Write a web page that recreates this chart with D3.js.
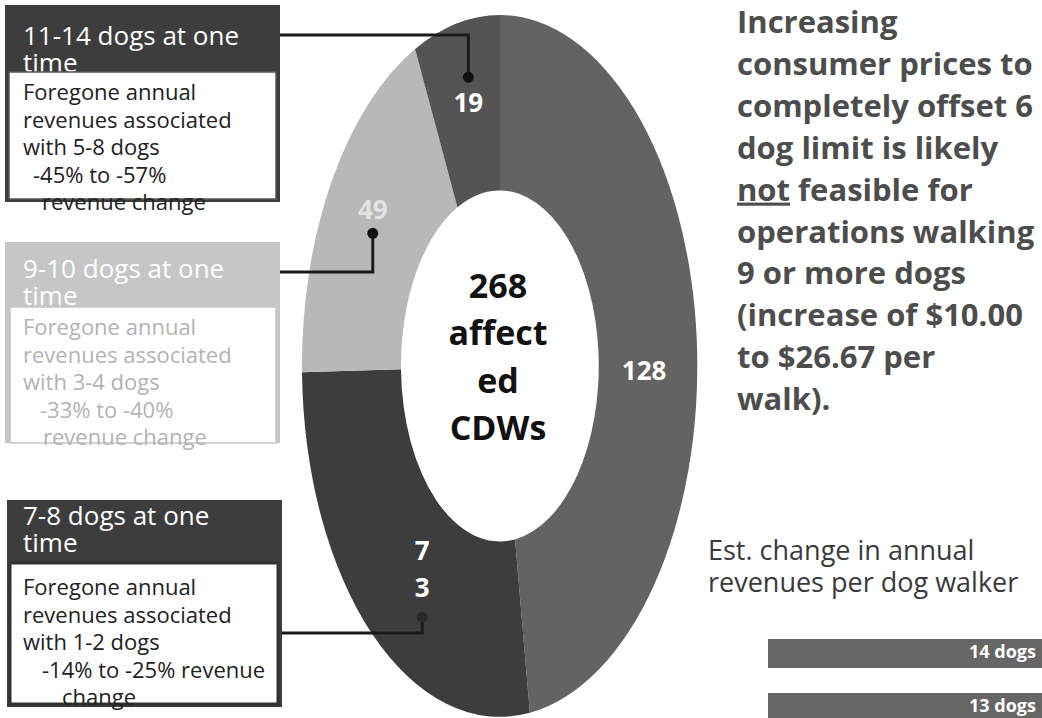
<!DOCTYPE html>
<html><head><meta charset="utf-8">
<script src="https://cdn.jsdelivr.net/npm/d3@7"></script>
<style>body{margin:0;background:#fff;overflow:hidden}</style>
</head><body>
<svg id="c" width="1042" height="718"></svg>
<script>
// ---------- data ----------
const categories = ["Other affected CDWs", "7-8 dogs", "9-10 dogs", "11-14 dogs"];
const values = [128, 73, 49, 19];
const centerLines = ["268", "affect", "ed", "CDWs"];

const boxHeaders = [["11-14 dogs at one", "time"], ["9-10 dogs at one", "time"], ["7-8 dogs at one", "time"]];
const boxBodies = [
  ["Foregone annual", "revenues associated", "with 5-8 dogs", "-45% to -57%", "revenue change"],
  ["Foregone annual", "revenues associated", "with 3-4 dogs", "-33% to -40%", "revenue change"],
  ["Foregone annual", "revenues associated", "with 1-2 dogs", "-14% to -25% revenue", "change"]
];
const boxSlice = [3, 2, 1];

const noteLines = ["Increasing", "consumer prices to", "completely offset 6", "dog limit is likely",
  "not| feasible for", "operations walking", "9 or more dogs", "(increase of $10.00", "to $26.67 per", "walk)."];
const barTitle = ["Est. change in annual", "revenues per dog walker"];
const barLabels = ["14 dogs", "13 dogs"];
const barValues = [57, 54];

// ---------- layout ----------
const W = 1042, H = 718;
const cx = 500, cy = 366, rx = 198, ry = 351;
const fills = ["#636363", "#3d3d3d", "#b8b8b8", "#545454"];
const labelColors = ["#fff", "#fff", "#e2e2e2", "#fff"];
const labelOffsets = [[-4, 25], [18, 2], [-1, -17], [1, -6]];
const dotOffsets = [null, [0, 48], [0, 23], [0, -26]];
const FONT = "'Open Sans', sans-serif";

const boxes = [
  {x: 5, y: 5, w: 275, h: 197, ix: 9, iy: 72, iw: 267, ih: 127, bg: "#3d3d3d", txt: "#222", border: "#555", bw: 1.5, hy: 45, by: 100, lineY: 35},
  {x: 5, y: 242, w: 275, h: 201, ix: 10, iy: 307, iw: 266, ih: 136, bg: "#c6c6c6", txt: "#b3b3b3", border: "#c6c6c6", bw: 1.5, hy: 278, by: 335, lineY: 272},
  {x: 7, y: 500, w: 275, h: 207, ix: 10, iy: 563, iw: 268, ih: 141, bg: "#3d3d3d", txt: "#222", border: "#333", bw: 3, hy: 525, by: 595, lineY: 633}
];
const bodyIndent = [[0, 0, 0, 10, 19], [0, 0, 0, 17, 20], [0, 0, 0, 19, 39]];

const svg = d3.select("#c");
svg.append("rect").attr("width", W).attr("height", H).attr("fill", "#fff");

// ---------- donut ----------
const pie = d3.pie().sort(null).value(d => d)(values);
const arc = d3.arc().innerRadius(0.5).outerRadius(1);
const g = svg.append("g").attr("transform", `translate(${cx},${cy})`);
g.selectAll("path.slice").data(pie).join("path")
  .attr("class", "slice")
  .attr("d", arc)
  .attr("transform", `scale(${rx},${ry})`)
  .attr("fill", (d, i) => fills[i]);

const labelPos = pie.map((d, i) => {
  const c = arc.centroid(d);
  return [c[0] * rx + labelOffsets[i][0], c[1] * ry + labelOffsets[i][1]];
});

g.selectAll("text.sl").data(pie).join("text")
  .attr("class", "sl")
  .attr("x", (d, i) => labelPos[i][0])
  .attr("y", (d, i) => labelPos[i][1])
  .attr("text-anchor", "middle")
  .attr("font-family", FONT)
  .attr("font-weight", 700)
  .attr("font-size", 26)
  .attr("fill", (d, i) => labelColors[i])
  .each(function (d, i) {
    const s = String(d.data);
    const parts = i === 1 ? s.split("") : [s];
    const el = d3.select(this);
    const lh = 37;
    parts.forEach((p, k) => {
      el.append("tspan").attr("x", labelPos[i][0])
        .attr("y", labelPos[i][1] + 9 + (k - (parts.length - 1) / 2) * lh).text(p);
    });
  });

// center text
const ct = svg.append("text").attr("text-anchor", "middle")
  .attr("font-family", FONT).attr("font-weight", 700)
  .attr("font-size", 34).attr("fill", "#111");
centerLines.forEach((t, k) => ct.append("tspan").attr("x", cx - 2).attr("y", 298 + k * 47.3).text(t));

// ---------- boxes ----------
boxes.forEach((b, i) => {
  const bg = svg.append("g");
  bg.append("rect").attr("x", b.x).attr("y", b.y).attr("width", b.w).attr("height", b.h).attr("fill", b.bg);
  boxHeaders[i].forEach((t, k) => bg.append("text").attr("font-family", FONT).attr("font-size", 26)
    .attr("fill", "#fff").attr("x", 23).attr("y", b.hy + k * 27).text(t));
  bg.append("rect").attr("x", b.ix).attr("y", b.iy).attr("width", b.iw).attr("height", b.ih)
    .attr("fill", "#fff").attr("stroke", b.border).attr("stroke-width", b.bw);
  const bt = bg.append("text").attr("font-family", FONT).attr("font-size", 22).attr("fill", b.txt);
  boxBodies[i].forEach((t, k) => bt.append("tspan").attr("x", 23 + bodyIndent[i][k]).attr("y", b.by + k * 27.5).text(t));
});

// ---------- leader lines ----------
boxes.forEach((b, i) => {
  const si = boxSlice[i];
  const lp = labelPos[si];
  const dx = cx + lp[0] + dotOffsets[si][0];
  const dy = cy + lp[1] + dotOffsets[si][1];
  svg.append("path")
    .attr("d", d3.line()([[b.x + b.w, b.lineY], [dx, b.lineY], [dx, dy]]))
    .attr("fill", "none").attr("stroke", "#1a1a1a").attr("stroke-width", 3);
  svg.append("circle").attr("cx", dx).attr("cy", dy).attr("r", 5.5).attr("fill", si === 1 ? "#2a2a2a" : "#111");
});

// ---------- note text ----------
const nt = svg.append("text").attr("font-family", FONT).attr("font-weight", 700)
  .attr("font-size", 31).attr("fill", "#4d4d4d");
noteLines.forEach((t, k) => {
  const ts = nt.append("tspan").attr("x", 737).attr("y", 33 + k * 41.9);
  if (t.includes("|")) {
    const [u, rest] = t.split("|");
    ts.append("tspan").attr("text-decoration", "underline").text(u);
    nt.append("tspan").text(rest);
  } else ts.text(t);
});

// ---------- bar excerpt ----------
const tt = svg.append("text").attr("font-family", FONT).attr("font-size", 27).attr("fill", "#3a3a3a");
barTitle.forEach((t, k) => tt.append("tspan").attr("x", 708).attr("y", 560 + k * 32).text(t));

const x = d3.scaleLinear().domain([0, 50]).range([768, 1048]);
const barTop = [639, 693];
svg.selectAll("rect.bar").data(barLabels).join("rect").attr("class", "bar")
  .attr("x", x(0)).attr("y", (d, i) => barTop[i]).attr("height", 29)
  .attr("width", (d, i) => x(barValues[i]) - x(0)).attr("fill", "#666");
svg.selectAll("text.bl").data(barLabels).join("text").attr("class", "bl")
  .attr("x", (d, i) => Math.min(x(barValues[i]), W) - 6)
  .attr("y", (d, i) => barTop[i] + 19)
  .attr("text-anchor", "end").attr("font-family", FONT).attr("font-weight", 700)
  .attr("font-size", 18).attr("fill", "#fff").text(d => d);
</script>
</body></html>
